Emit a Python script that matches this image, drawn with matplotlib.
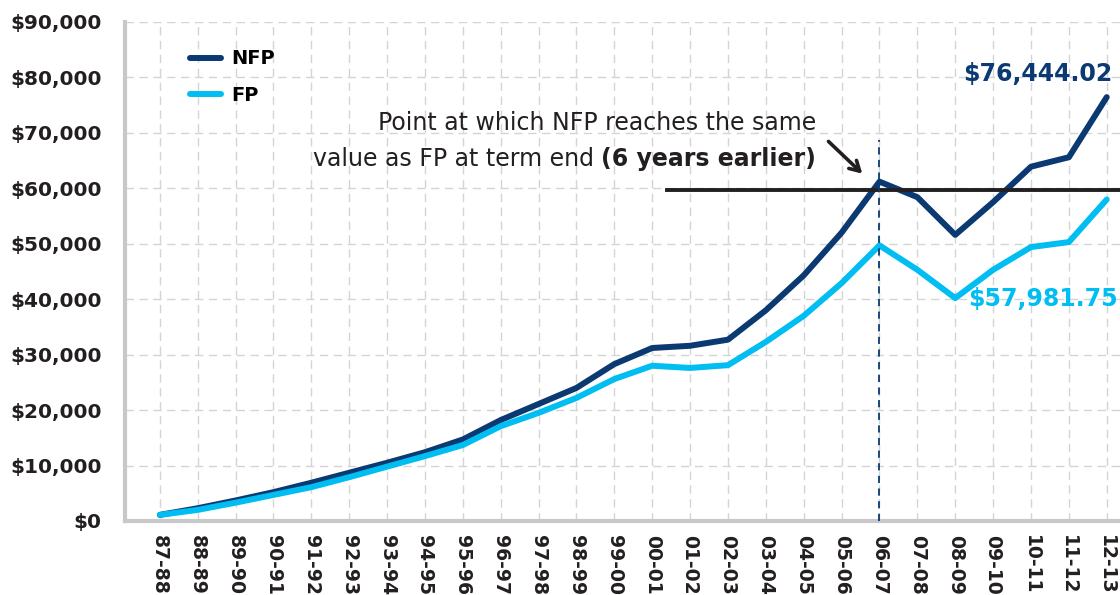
import matplotlib.pyplot as plt
from matplotlib.ticker import FuncFormatter

# school years on the x axis
years = ['87-88', '88-89', '89-90', '90-91', '91-92', '92-93', '93-94', '94-95',
         '95-96', '96-97', '97-98', '98-99', '99-00', '00-01', '01-02', '02-03',
         '03-04', '04-05', '05-06', '06-07', '07-08', '08-09', '09-10', '10-11',
         '11-12', '12-13']

nfp = [1100, 2300, 3700, 5200, 6900, 8700, 10500, 12400, 14700, 18200, 21100,
       24000, 28300, 31200, 31600, 32700, 38000, 44300, 52000, 61200, 58400,
       51600, 57500, 63900, 65600, 76444.02]
fp = [1100, 2000, 3300, 4700, 6100, 7900, 9800, 11700, 13700, 17100, 19500,
      22200, 25600, 28000, 27600, 28100, 32300, 37000, 42900, 49700, 45300,
      40200, 45300, 49400, 50300, 57981.75]

yticks = list(range(0, 90001, 10000))
target_value = 59700   # level of the black reference line
cross_idx = 19         # 06-07

NAVY = '#0b3a72'
CYAN = '#00bdf2'
GREY = '#c8c8c8'
INK = '#231f20'

fig = plt.figure(figsize=(11.2, 5.95), dpi=100)
ax = fig.add_axes([0.1116, 0.1244, 0.8884, 0.8387])

x = list(range(len(years)))
ax.plot(x, nfp, color=NAVY, lw=4.3, solid_capstyle='round', label='NFP', zorder=3)
ax.plot(x, fp, color=CYAN, lw=4.3, solid_capstyle='round', label='FP', zorder=4)

# reference line and the crossing point
ax.plot([13.38, 25.4], [target_value, target_value], color=INK, lw=2.8,
        zorder=5, clip_on=False)
ax.plot([cross_idx, cross_idx], [0, 68700], color=NAVY, lw=1.3,
        ls=(0, (4, 3)), zorder=5)

ax.set_xlim(-0.92, 25.35)
ax.set_ylim(0, 90000)
ax.set_xticks(x)
ax.set_xticklabels(years, rotation=270, fontsize=13.5, fontweight='bold')
ax.set_yticks(yticks)
ax.yaxis.set_major_formatter(FuncFormatter(lambda v, p: '${:,.0f}'.format(v)))
for lab in ax.get_yticklabels():
    lab.set_fontweight('bold')
    lab.set_fontsize(14.5)
ax.tick_params(axis='both', length=0, colors=INK)
ax.tick_params(axis='y', pad=17)
ax.tick_params(axis='x', pad=10)

ax.grid(True, color='#d4d4d4', ls=(0, (6, 4)), lw=1)
ax.set_axisbelow(True)
for side in ['top', 'right']:
    ax.spines[side].set_visible(False)
for side in ['left', 'bottom']:
    ax.spines[side].set_color(GREY)
    ax.spines[side].set_linewidth(3)

ax.legend(loc='upper left', bbox_to_anchor=(0.048, 0.98), frameon=False,
          prop={'weight': 'bold', 'size': 14}, handlelength=1.6,
          labelspacing=0.9, handletextpad=0.5)

# annotation, right aligned at the same edge on both lines
tx = 17.33
ax.text(tx, 71800, 'Point at which NFP reaches the same', ha='right',
        va='center', fontsize=17, color=INK)
t1 = ax.text(tx, 65300, '(6 years earlier)', ha='right', va='center',
             fontsize=17, fontweight='bold', color=INK)
fig.canvas.draw()
bb = t1.get_window_extent()
x0 = ax.transData.inverted().transform((bb.x0, bb.y0))[0]
ax.text(x0, 65300, 'value as FP at term end ', ha='right', va='center',
        fontsize=17, color=INK)
ax.annotate('', xy=(18.6, 62300), xytext=(17.6, 68800),
            arrowprops=dict(arrowstyle='->,head_length=0.7,head_width=0.4',
                            lw=2.6, color=INK))

ax.text(25.15, 80600, '${:,.2f}'.format(nfp[-1]), ha='right', va='center',
        fontsize=17, fontweight='bold', color=NAVY)
ax.text(25.3, 40000, '${:,.2f}'.format(fp[-1]), ha='right', va='center',
        fontsize=17, fontweight='bold', color=CYAN, clip_on=False)

fig.savefig('out.png', dpi=100)
